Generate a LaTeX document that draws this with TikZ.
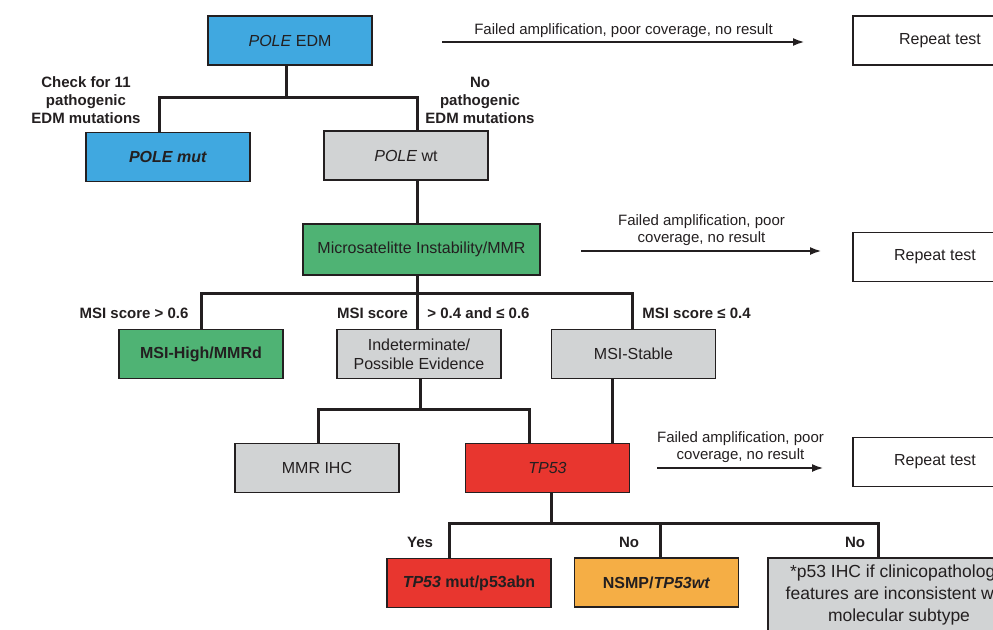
\documentclass[tikz,border=0pt]{standalone}
\usepackage{fontspec}
\setmainfont{Liberation Sans}
\usetikzlibrary{arrows.meta,calc,positioning}
\definecolor{ink}{HTML}{231F20}
\definecolor{poleblue}{HTML}{40A8E0}
\definecolor{msigreen}{HTML}{4FB374}
\definecolor{tpred}{HTML}{E8362F}
\definecolor{nsmporange}{HTML}{F5AE45}
\definecolor{testgray}{HTML}{D1D3D4}
\tikzset{
  branch/.style={draw=ink,line width=3pt},
  fail/.style={-{Latex[length=12pt,width=8pt]},draw=ink,line width=2.7pt},
  base/.style={draw=ink,line width=1.4pt,align=center,minimum width=164pt,minimum height=49pt,
               inner sep=2pt,text=ink,font=\fontsize{16}{19}\selectfont},
  boldbox/.style={font=\fontsize{16}{19}\selectfont\bfseries},
  pole/.style={base,fill=poleblue},
  msi/.style={base,fill=msigreen},
  p53/.style={base,fill=tpred},
  nsmp/.style={base,fill=nsmporange},
  wildtype/.style={base,fill=testgray},
  retest/.style={base,fill=white,line width=1.1pt},
  cond/.style={align=center,text=ink,font=\fontsize{15}{18}\selectfont\bfseries,inner sep=0pt},
  note/.style={align=center,text=ink,font=\fontsize{15}{17.5}\selectfont,inner sep=1pt}
}
\begin{document}
\begin{tikzpicture}[x=1pt,y=-1pt]
  \useasboundingbox (0,0) rectangle (993,629);
  \clip (0,0) rectangle (993,629);
  % test boxes
  \node[pole] (edm) at (290,40.5) {\textit{POLE} EDM};
  \node[pole,boldbox] (polemut) at (168,157) {\textit{POLE mut}};
  \node[wildtype] (polewt) at (406,155.5) {\textit{POLE} wt};
  \node[msi,minimum width=237pt,minimum height=51pt] (msitest) at (421.5,249.5) {Microsatelitte Instability/MMR};
  \node[msi,boldbox] (msih) at (201,354) {MSI-High/MMRd};
  \node[wildtype] (indet) at (419,354) {Indeterminate/\\Possible Evidence};
  \node[wildtype] (mss) at (633.5,354) {MSI-Stable};
  \node[wildtype] (mmrihc) at (317,468) {MMR IHC};
  \node[p53] (tp53) at (547.5,468) {\textit{TP53}};
  \node[p53,boldbox] (tp53mut) at (469,583) {\textit{TP53} mut/p53abn};
  \node[nsmp,boldbox] (nsmp) at (656.5,582.5) {NSMP/\textit{TP53wt}};
  \node[wildtype,minimum width=262pt,minimum height=74pt,font=\fontsize{17.5}{22}\selectfont] (ihcnote) at (899,595)
       {*p53 IHC if clinicopathologic\\features are inconsistent with\\molecular subtype};
  \foreach \i/\x/\y/\w in {1/940/40.5/174,2/935/257/164,3/935/462/164}{
    \node[retest,minimum width=\w pt] (rep\i) at (\x,\y) {Repeat test};
  }
  % branch points
  \coordinate (b1) at (286,97);  \coordinate (b1l) at (159,97);  \coordinate (b1r) at (417,97);
  \coordinate (b2) at (417,293); \coordinate (b2l) at (201,293); \coordinate (b2r) at (632,293);
  \coordinate (b3) at (420,409); \coordinate (b3l) at (318,409); \coordinate (b3r) at (529,409);
  \coordinate (b3s) at (612,409);
  \coordinate (b4) at (551,523); \coordinate (b4l) at (449,523); \coordinate (b4m) at (660,523);
  \coordinate (b4r) at (878,523);
  \draw[branch] (edm.south -| b1) -- (b1);
  \draw[branch] (polemut.north -| b1l) |- (b1r) -- (polewt.north -| b1r);
  \draw[branch] (polewt.south -| b1r) -- (msitest.north -| b1r);
  \draw[branch] (msitest.south -| b2) -- (indet.north -| b2);
  \draw[branch] (msih.north -| b2l) |- (b2r) -- (mss.north -| b2r);
  \draw[branch] (indet.south -| b3) -- (b3);
  \draw[branch] (mmrihc.north -| b3l) |- (b3r) -- (tp53.north -| b3r);
  \draw[branch] (mss.south -| b3s) -- (tp53.north -| b3s);
  \draw[branch] (tp53.south -| b4) -- (b4);
  \draw[branch] (tp53mut.north -| b4l) |- (b4r) -- (ihcnote.north -| b4r);
  \draw[branch] (b4m) -- (nsmp.north -| b4m);
  % failed runs
  \coordinate (f1a) at (442,42);  \coordinate (f1b) at (805,42);
  \coordinate (f2a) at (581,251); \coordinate (f2b) at (822,251);
  \coordinate (f3a) at (657,468); \coordinate (f3b) at (824,468);
  \draw[fail] (f1a) -- (f1b) node[note,midway,above=2pt] {Failed amplification, poor coverage, no result};
  \draw[fail] (f2a) -- (f2b) node[note,midway,above=3pt] {Failed amplification, poor\\coverage, no result};
  \draw[fail] (f3a) -- (f3b) node[note,midway,above=3pt] {Failed amplification, poor\\coverage, no result};
  % conditions
  \node[cond] (chk) at (86,100) {Check for 11\\pathogenic\\EDM mutations};
  \node[cond] (nopath) at (480,100) {No\\pathogenic\\EDM mutations};
  \node[cond] (gt06) at (134,313) {MSI score > 0.6};
  \node[cond] (mid1) at (372.5,313) {MSI score};
  \node[cond] (mid2) at (478.5,313) {> 0.4 and ≤ 0.6};
  \node[cond] (le04) at (696.5,313) {MSI score ≤ 0.4};
  \node[cond] (yes) at (420,542) {Yes};
  \node[cond] (no1) at (629,542) {No};
  \node[cond] (no2) at (855,542) {No};
\end{tikzpicture}
\end{document}
